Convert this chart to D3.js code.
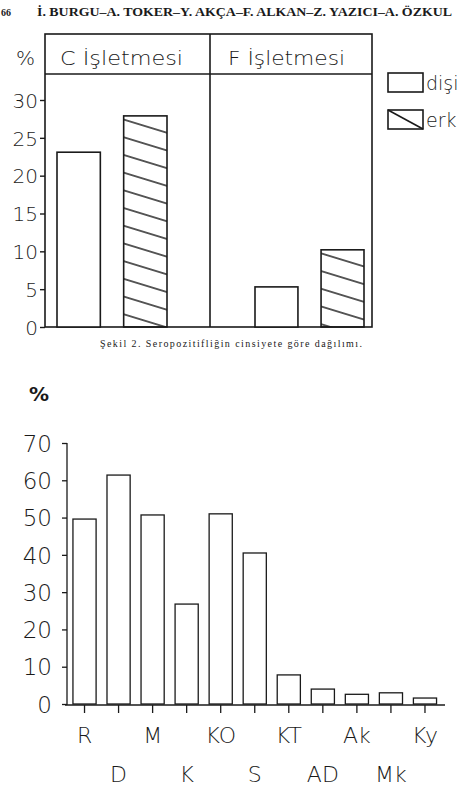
<!DOCTYPE html>
<html>
<head>
<meta charset="utf-8">
<script src="https://cdn.jsdelivr.net/npm/d3@7"></script>
<style>
  html, body { margin: 0; padding: 0; background: #fff; }
  svg { display: block; }
  .num { font-family: "DejaVu Sans", Roboto, sans-serif; font-weight: 200; fill: #1a1a1a; }
  .serif { font-family: "Liberation Serif", "DejaVu Serif", serif; fill: #1a1a1a; }
</style>
</head>
<body>
<div id="chart"></div>
<script>
// ---- data: top chart (Şekil 2) ----
const farms = ["C İşletmesi", "F İşletmesi"];
const sexes = ["dişi", "erk"];
const femaleValues = [23.1, 5.3];
const maleValues = [27.9, 10.2];
const topTicks = [0, 5, 10, 15, 20, 25, 30];

// ---- data: bottom chart ----
const categories = ["R", "D", "M", "K", "KO", "S", "KT", "AD", "Ak", "Mk", "Ky"];
const catValues = [49.6, 61.4, 50.7, 26.8, 51, 40.5, 7.8, 4, 2.6, 3, 1.6];
const bottomTicks = [0, 10, 20, 30, 40, 50, 60, 70];

const W = 466, H = 799;
const ink = "#1a1a1a";

const svg = d3.select("#chart").append("svg")
  .attr("width", W).attr("height", H)
  .attr("viewBox", `0 0 ${W} ${H}`);

// hatch pattern for "erk"
const defs = svg.append("defs");
defs.append("pattern")
  .attr("id", "hatch")
  .attr("patternUnits", "userSpaceOnUse")
  .attr("width", 400).attr("height", 17.7)
  .attr("patternTransform", "translate(0,6) skewY(17)")
  .append("line")
  .attr("x1", 0).attr("x2", 400).attr("y1", 1).attr("y2", 1)
  .attr("stroke", ink).attr("stroke-width", 1.5);

// page header
svg.append("text").attr("class", "serif")
  .attr("x", 1).attr("y", 16)
  .attr("font-size", 10).attr("font-weight", "bold")
  .text("66");
svg.append("text").attr("class", "serif")
  .attr("x", 37).attr("y", 16)
  .attr("font-size", 12.5).attr("font-weight", "bold")
  .attr("textLength", 415).attr("lengthAdjust", "spacingAndGlyphs")
  .text("İ. BURGU–A. TOKER–Y. AKÇA–F. ALKAN–Z. YAZICI–A. ÖZKUL");

// ================= top chart =================
const box = { left: 45, right: 372, frameTop: 34, headBottom: 74, base: 327 };

const yTop = d3.scaleLinear().domain([0, 30]).range([box.base, 100]);
const xFarm = d3.scaleBand().domain(farms).range([box.left, box.right + 3]);
// inner bar spans inside each panel (layout, not data)
const innerRange = { "C İşletmesi": [12, 122], "F İşletmesi": [45, 154] };

const gTop = svg.append("g");

// frame
gTop.append("rect")
  .attr("x", box.left).attr("y", box.frameTop)
  .attr("width", box.right - box.left).attr("height", box.base - box.frameTop)
  .attr("fill", "none").attr("stroke", ink).attr("stroke-width", 1.6);
gTop.append("line")
  .attr("x1", box.left).attr("x2", box.right)
  .attr("y1", box.headBottom).attr("y2", box.headBottom)
  .attr("stroke", ink).attr("stroke-width", 1.6);
gTop.append("line")
  .attr("x1", xFarm(farms[1])).attr("x2", xFarm(farms[1]))
  .attr("y1", box.frameTop).attr("y2", box.base)
  .attr("stroke", ink).attr("stroke-width", 1.6);

// panel titles
gTop.selectAll(".farm-title")
  .data(farms)
  .join("text")
  .attr("class", "num farm-title")
  .attr("x", d => xFarm(d) + (d === farms[0] ? 15 : 18))
  .attr("y", 65)
  .attr("font-size", 20)
  .attr("textLength", d => d === farms[0] ? 123 : 117)
  .attr("lengthAdjust", "spacingAndGlyphs")
  .text(d => d);

// y axis
gTop.append("g")
  .attr("transform", `translate(${box.left},0)`)
  .call(d3.axisLeft(yTop).tickValues(topTicks).tickSize(5).tickPadding(2))
  .call(g => g.select(".domain").remove())
  .call(g => g.selectAll("line").attr("stroke", ink).attr("stroke-width", 1.4))
  .call(g => g.selectAll("text")
    .attr("class", "num").attr("font-size", 20).attr("fill", ink)
    .attr("dy", "0.36em"));

gTop.append("text").attr("class", "num")
  .attr("x", 16).attr("y", 65).attr("font-size", 20).text("%");

// bars
farms.forEach((farm, i) => {
  const xs = d3.scaleBand().domain(sexes).range(innerRange[farm]).paddingInner(0.35);
  const vals = [femaleValues[i], maleValues[i]];
  gTop.append("g")
    .attr("transform", `translate(${xFarm(farm)},0)`)
    .selectAll("rect")
    .data(sexes.map((s, j) => ({ s, v: vals[j] })))
    .join("rect")
    .attr("x", d => xs(d.s))
    .attr("width", xs.bandwidth())
    .attr("y", d => yTop(d.v))
    .attr("height", d => box.base - yTop(d.v))
    .attr("fill", d => d.s === "erk" ? "url(#hatch)" : "#fff")
    .attr("stroke", ink).attr("stroke-width", 1.6);
});

// legend
const legend = gTop.append("g").attr("transform", "translate(388,73)");
sexes.forEach((s, i) => {
  const gy = i * 37;
  legend.append("rect")
    .attr("x", 0).attr("y", gy).attr("width", 35).attr("height", 19)
    .attr("fill", "#fff").attr("stroke", ink).attr("stroke-width", 1.6);
  if (s === "erk") {
    legend.append("line")
      .attr("x1", 0).attr("y1", gy).attr("x2", 35).attr("y2", gy + 19)
      .attr("stroke", ink).attr("stroke-width", 1.6);
  }
  legend.append("text").attr("class", "num")
    .attr("x", 38).attr("y", gy + 17).attr("font-size", 19)
    .text(s);
});

// caption
svg.append("text").attr("class", "serif")
  .attr("x", 100).attr("y", 347)
  .attr("font-size", 10)
  .attr("textLength", 262).attr("lengthAdjust", "spacing")
  .text("Şekil 2. Seropozitifliğin cinsiyete göre dağılımı.");

// ================= bottom chart =================
const bot = { axisX: 67, base: 704 };
const yBot = d3.scaleLinear().domain([0, 70]).range([bot.base, 443]);
const xBot = d3.scaleBand().domain(categories)
  .range([67.5, 442]).paddingInner(0.32).paddingOuter(0.16);

const gBot = svg.append("g");

gBot.append("text")
  .attr("x", 29).attr("y", 401)
  .style("font-family", "'DejaVu Sans', sans-serif")
  .style("font-weight", "bold").style("font-size", "20px").style("fill", ink)
  .text("%");

gBot.append("g")
  .attr("transform", `translate(${bot.axisX},0)`)
  .call(d3.axisLeft(yBot).tickValues(bottomTicks).tickSize(5).tickPadding(10))
  .call(g => g.select(".domain").attr("d", `M0,${yBot(70)}V${bot.base + 1}`)
    .attr("stroke", ink).attr("stroke-width", 1.3))
  .call(g => g.selectAll("line").attr("stroke", ink).attr("stroke-width", 1.3))
  .call(g => g.selectAll("text")
    .attr("class", "num").attr("font-size", 23).attr("fill", ink)
    .attr("dy", "0.36em"));

// bars
gBot.selectAll(".bar")
  .data(categories.map((c, i) => ({ c, v: catValues[i] })))
  .join("rect")
  .attr("class", "bar")
  .attr("x", d => xBot(d.c))
  .attr("width", xBot.bandwidth())
  .attr("y", d => yBot(d.v))
  .attr("height", d => bot.base - yBot(d.v))
  .attr("fill", "#fff").attr("stroke", ink).attr("stroke-width", 1.3);

// x axis with staggered labels
gBot.append("g")
  .attr("transform", `translate(0,${bot.base + 1})`)
  .call(d3.axisBottom(xBot).tickSize(8).tickPadding(0))
  .call(g => g.select(".domain").attr("d", `M65,0H445`)
    .attr("stroke", ink).attr("stroke-width", 1.4))
  .call(g => g.selectAll("line").attr("stroke", ink).attr("stroke-width", 1.3))
  .call(g => g.selectAll("text")
    .attr("class", "num").attr("font-size", 22).attr("fill", ink)
    .attr("dy", 0)
    .attr("y", (d, i) => i % 2 === 0 ? 38 : 77));
</script>
</body>
</html>
